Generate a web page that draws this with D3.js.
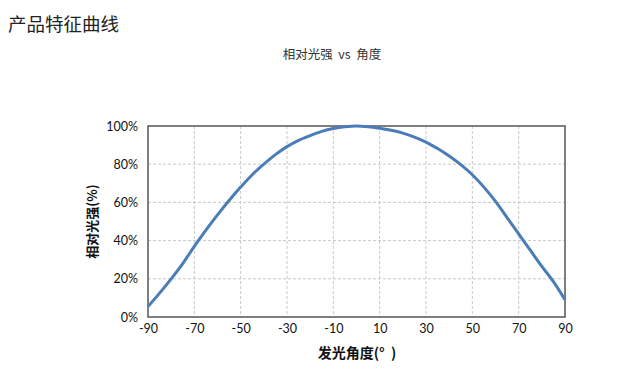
<!DOCTYPE html>
<html>
<head>
<meta charset="utf-8">
<script src="https://cdn.jsdelivr.net/npm/d3@7"></script>
<style>
  body { margin: 0; background: #fff; }
  svg text { font-family: Lato, "Noto Sans CJK SC", sans-serif; }
</style>
</head>
<body>
<svg id="chart" width="619" height="375"></svg>
<script>
'use strict';

// Angle (deg) and relative intensity (%)
var angles = [-90, -85, -80, -75, -70, -65, -60, -55, -50, -45, -40, -35, -30, -25, -20, -15, -10, -5, 0, 5, 10, 15, 20, 25, 30, 35, 40, 45, 50, 55, 60, 65, 70, 75, 80, 85, 90];
var intensity = [5.5, 12.5, 20, 28, 37, 45.5, 53.5, 61, 68, 74.5, 80, 85, 89.2, 92.5, 95, 97.2, 98.7, 99.6, 100, 99.6, 98.8, 97.8, 96.3, 94.2, 91.6, 88.2, 84.3, 79.8, 74.5, 68, 60.5, 52, 43.5, 35, 26.5, 18.5, 9];
var xTicks = [-90, -70, -50, -30, -10, 10, 30, 50, 70, 90];
var yTicks = [0, 20, 40, 60, 80, 100];

var svg = d3.select('#chart');
var plot = {left: 148, right: 565, top: 126, bottom: 317};

var x = d3.scaleLinear().domain([-90, 90]).range([plot.left, plot.right]);
var y = d3.scaleLinear().domain([0, 100]).range([plot.bottom, plot.top]);

// Titles
svg.append('text').attr('x', 8).attr('y', 31)
  .attr('font-size', '18.5px').attr('fill', '#222')
  .style('font-family', '"Noto Sans CJK SC", sans-serif')
  .text('产品特征曲线');
svg.append('text').attr('x', 332).attr('y', 59)
  .attr('text-anchor', 'middle').attr('font-size', '12.5px').attr('fill', '#333')
  .style('font-family', '"Noto Sans CJK SC", sans-serif')
  .style('white-space', 'pre')
  .text('相对光强  vs  角度');

// Grid
var grid = svg.append('g').attr('stroke', '#c8c8c8').attr('stroke-dasharray', '3,2').attr('stroke-width', 1);
xTicks.slice(1, -1).forEach(function (t) {
  grid.append('line').attr('x1', x(t)).attr('x2', x(t)).attr('y1', plot.top).attr('y2', plot.bottom);
});
yTicks.slice(1, -1).forEach(function (t) {
  grid.append('line').attr('x1', plot.left).attr('x2', plot.right).attr('y1', y(t)).attr('y2', y(t));
});

// Axes tick labels (plain hyphen for negatives, like the original)
var xAxis = d3.axisBottom(x).tickValues(xTicks).tickSize(0).tickPadding(7)
  .tickFormat(function (d) { return String(d); });
var gx = svg.append('g').attr('transform', 'translate(0,' + plot.bottom + ')').call(xAxis);
gx.select('.domain').remove();
gx.selectAll('text').attr('font-size', '12.5px').attr('fill', '#111').style('font-family', 'Lato, sans-serif');

var yAxis = d3.axisLeft(y).tickValues(yTicks).tickSize(0).tickPadding(10).tickFormat(function (d) { return d + '%'; });
var gy = svg.append('g').attr('transform', 'translate(' + plot.left + ',0)').call(yAxis);
gy.select('.domain').remove();
gy.selectAll('text').attr('font-size', '12.5px').attr('fill', '#111').style('font-family', 'Lato, sans-serif');

// Plot border
svg.append('rect').attr('x', plot.left).attr('y', plot.top)
  .attr('width', plot.right - plot.left).attr('height', plot.bottom - plot.top)
  .attr('fill', 'none').attr('stroke', '#555').attr('stroke-width', 1.5);

// Curve
var line = d3.line()
  .x(function (d, i) { return x(angles[i]); })
  .y(function (d) { return y(d); })
  .curve(d3.curveCatmullRom.alpha(0.5));
svg.append('path').datum(intensity)
  .attr('d', line).attr('fill', 'none')
  .attr('stroke', '#4a7db8').attr('stroke-width', 3).attr('stroke-linejoin', 'round');

// Axis titles
svg.append('text').attr('x', 357).attr('y', 358)
  .attr('text-anchor', 'middle').attr('font-size', '14px').attr('font-weight', 'bold').attr('fill', '#111')
  .style('font-family', '"Noto Sans CJK SC", sans-serif')
  .style('white-space', 'pre')
  .text('发光角度(°  )');
svg.append('text')
  .attr('transform', 'translate(97,' + ((plot.top + plot.bottom) / 2) + ') rotate(-90)')
  .attr('text-anchor', 'middle').attr('font-size', '13px').attr('font-weight', 'bold').attr('fill', '#111')
  .style('font-family', '"Noto Sans CJK SC", sans-serif')
  .text('相对光强(%)');
</script>
</body>
</html>
